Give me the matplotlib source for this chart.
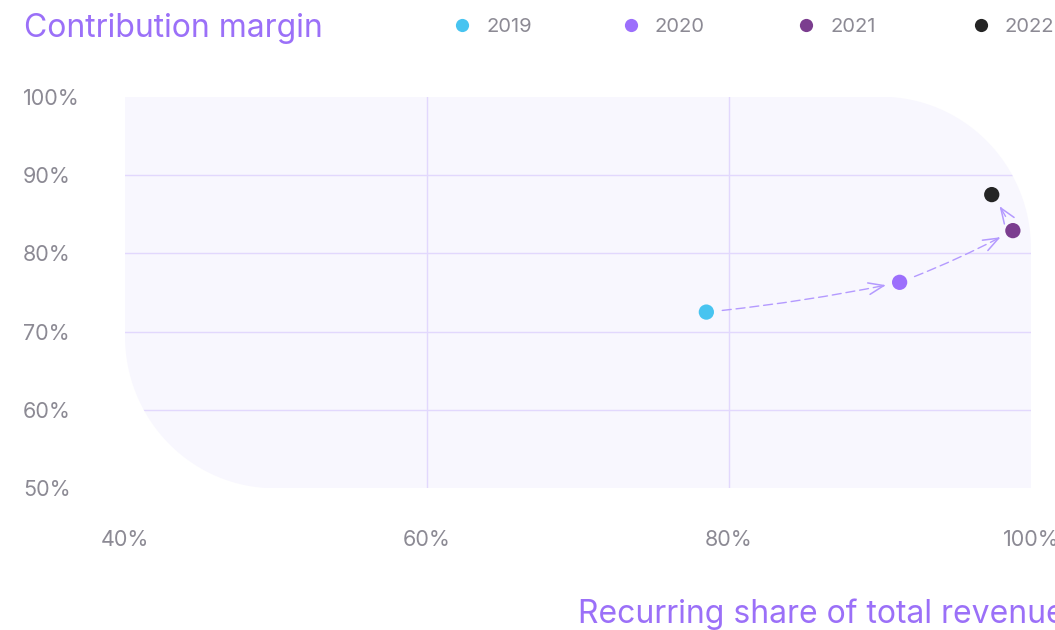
import numpy as np
import matplotlib.pyplot as plt
from matplotlib.patches import Polygon
from matplotlib.lines import Line2D

# Datos
years = ['2019', '2020', '2021', '2022']
recurring_share = [78.5, 91.3, 98.8, 97.4]
contribution_margin = [72.5, 76.3, 82.9, 87.5]
point_colors = ['#48c4f0', '#9c6ffc', '#7b3d8f', '#252525']
x_ticks = [40, 60, 80, 100]
y_ticks = [50, 60, 70, 80, 90, 100]
x_grid = [60, 80]
y_grid = [60, 70, 80, 90]

purple = '#9b70f8'
gray = '#8c8a94'
grid_col = '#e2d8fd'
arrow_col = '#b49aff'

plt.rcParams['font.family'] = ['Inter', 'DejaVu Sans']

fig = plt.figure(figsize=(10.55, 6.3), dpi=100)
W, H = 1055, 630
ax = fig.add_axes([125 / W, 1 - 488.3 / H, 906 / W, 391.6 / H])
ax.set_xlim(40, 100)
ax.set_ylim(50, 100)
for s in ax.spines.values():
    s.set_visible(False)
ax.patch.set_visible(False)

# Fondo con esquinas redondeadas (arriba-derecha y abajo-izquierda)
rx, ry = 150 / 906, 152 / 391.6
t_tr = np.linspace(np.pi / 2, 0, 50)
t_bl = np.linspace(3 * np.pi / 2, np.pi, 50)
verts = [(0, 1)]
verts += [(1 - rx + rx * np.cos(t), 1 - ry + ry * np.sin(t)) for t in t_tr]
verts += [(1, 0)]
verts += [(rx + rx * np.cos(t), ry + ry * np.sin(t)) for t in t_bl]
bg = Polygon(verts, closed=True, transform=ax.transAxes,
             facecolor='#f8f7fe', edgecolor='none', zorder=0)
ax.add_patch(bg)

for v in y_grid:
    ln = ax.axhline(v, color=grid_col, lw=1, zorder=1)
    ln.set_clip_path(bg)
for v in x_grid:
    ln = ax.axvline(v, color=grid_col, lw=1, zorder=1)
    ln.set_clip_path(bg)

ax.scatter(recurring_share, contribution_margin, s=121, c=point_colors,
           edgecolors='none', zorder=4)

# Ejes
ax.set_xticks(x_ticks)
ax.set_xticklabels([f'{v}%' for v in x_ticks])
ax.set_yticks(y_ticks)
ax.set_yticklabels([f'{v}%' for v in y_ticks])
ax.tick_params(axis='both', length=0, labelsize=15.5, labelcolor=gray)
ax.tick_params(axis='x', pad=30)
ax.tick_params(axis='y', pad=73.5)
for lbl in ax.get_yticklabels():
    lbl.set_horizontalalignment('left')


# Flechas punteadas entre años
def dashed_arrow(i, j, rad):
    p0 = ax.transData.transform((recurring_share[i], contribution_margin[i]))
    p1 = ax.transData.transform((recurring_share[j], contribution_margin[j]))
    dx, dy = p1 - p0
    mid = (p0 + p1) / 2
    ctrl = np.array([mid[0] + rad * dy, mid[1] - rad * dx])
    d = p1 - ctrl
    d = d / np.hypot(*d)
    tip = p1 - 14 * d
    ax.annotate('', xy=tuple(tip), xytext=tuple(p0),
                xycoords='figure pixels', textcoords='figure pixels',
                arrowprops=dict(arrowstyle='-', color=arrow_col, lw=1,
                                linestyle=(0, (6.5, 3.5)), shrinkA=11.5, shrinkB=0,
                                connectionstyle=f'arc3,rad={rad}'), zorder=3)
    ax.annotate('', xy=tuple(tip), xytext=tuple(tip - 3 * d),
                xycoords='figure pixels', textcoords='figure pixels',
                arrowprops=dict(arrowstyle='->,head_length=1.1,head_width=0.42',
                                color=arrow_col, lw=1.1, shrinkA=0, shrinkB=0,
                                mutation_scale=10), zorder=3)


dashed_arrow(0, 1, 0.025)
dashed_arrow(1, 2, 0.03)
dashed_arrow(2, 3, 0.03)

# Titulo y etiqueta del eje x
fig.text(24 / W, 1 - 37 / H, 'Contribution margin', color=purple,
         fontsize=23, va='baseline', ha='left')
fig.text(578 / W, 1 - 623 / H, 'Recurring share of total revenue', color=purple,
         fontsize=23, va='baseline', ha='left')

# Leyenda manual
legend_x = [462, 631, 806, 981]
for xm, yr, col in zip(legend_x, years, point_colors):
    fig.add_artist(Line2D([xm / W], [1 - 25 / H], marker='o', markersize=9.5,
                          color=col, markeredgecolor='none', linestyle='none',
                          transform=fig.transFigure))
    fig.text((xm + 24) / W, 1 - 32.5 / H, yr, color=gray, fontsize=14.5,
             va='baseline', ha='left')

fig.savefig('out.png', dpi=100)
